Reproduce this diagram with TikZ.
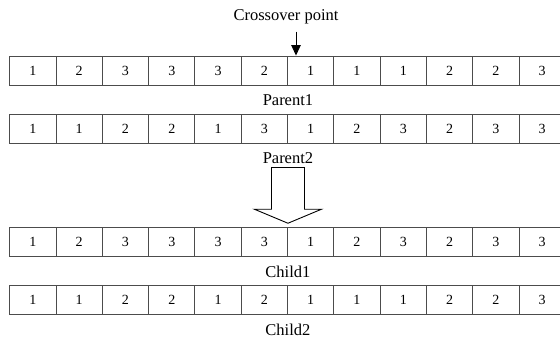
\documentclass[tikz,border=0pt]{standalone}
\usepackage{fontspec}
\setmainfont{Liberation Serif}
\usetikzlibrary{arrows.meta,positioning,calc}
\tikzset{>={Triangle[width=9.5pt,length=10.5pt]}}

\begin{document}
\begin{tikzpicture}[x=1pt, y=1pt]
      \tikzstyle{gene} = [draw=black!70, line width=0.9pt, rectangle, minimum width=46.3pt, minimum height=29pt, inner sep=0pt, font=\fontsize{14}{14}\selectfont]
      \tikzstyle{lbl} = [inner sep=0pt, anchor=base, font=\fontsize{16.5}{16.5}\selectfont]

      \useasboundingbox (0,0) rectangle (560,339);

      % parents
      \foreach \v [count=\i] in {1,2,3,3,3,2,1,1,1,2,2,3}
        \node[gene] (pa\i) at (32.85+46.3*\i-46.3, 268.5) {\v};
      \foreach \v [count=\i] in {1,1,2,2,1,3,1,2,3,2,3,3}
        \node[gene] (pb\i) at (32.85+46.3*\i-46.3, 210.5) {\v};

      % children
      \foreach \v [count=\i] in {1,2,3,3,3,3,1,2,3,2,3,3}
        \node[gene] (ca\i) at (32.85+46.3*\i-46.3, 97.1) {\v};
      \foreach \v [count=\i] in {1,1,2,2,1,2,1,1,1,2,2,3}
        \node[gene] (cb\i) at (32.85+46.3*\i-46.3, 39) {\v};

      \node[lbl] (parent1) at ([yshift=-20.3pt]pa6.south east) {Parent1};
      \node[lbl] (parent2) at ([yshift=-20.3pt]pb6.south east) {Parent2};
      \node[lbl] (child1) at ([yshift=-20.3pt]ca6.south east) {Child1};
      \node[lbl] (child2) at ([yshift=-20.3pt]cb6.south east) {Child2};

      % crossover point
      \node[lbl] (xover) at (286,318) {Crossover point};
      \coordinate (cut) at (296,307.3);
      \draw[->, line width=1pt] (cut) -- (cut |- pa7.north);

      % hollow arrow
      \coordinate (fat) at ([yshift=3.7pt]ca6.north east);
      \draw[line width=0.9pt, fill=white] (fat) -- ++(-33.5,14) -- ++(17,0) -- ++(0,41.7)
        -- ++(33,0) -- ++(0,-41.7) -- ++(17,0) -- cycle;
\end{tikzpicture}
\end{document}
